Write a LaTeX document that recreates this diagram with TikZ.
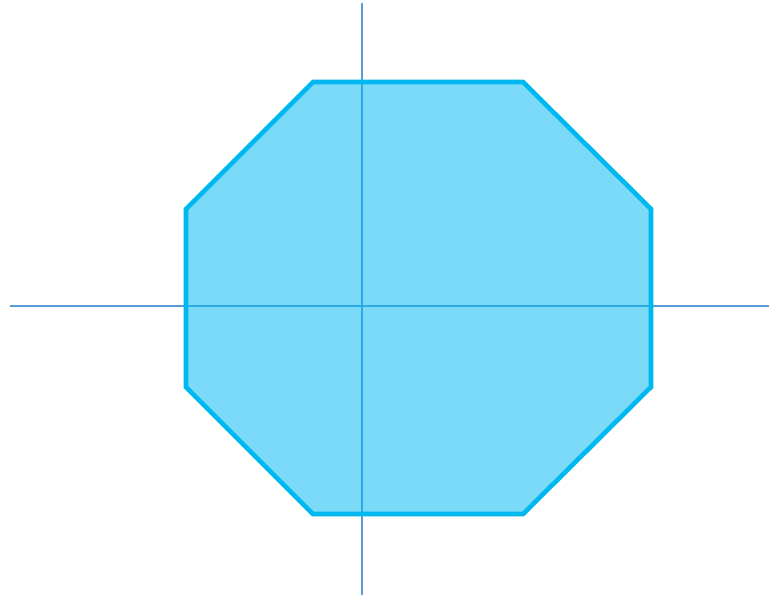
\documentclass[tikz,border=0pt]{standalone}
\usepackage{xcolor}
\usepackage{tikz}
\usetikzlibrary{calc}
\definecolor{octEdge}{HTML}{00B8F0}
\definecolor{axisBlue}{HTML}{5B9BD5}

\begin{document}
\begin{tikzpicture}[
  x=1pt,y=-1pt,
  axis/.style={draw=axisBlue,line width=1.4pt},
  octagon/.style={draw=octEdge,fill=octEdge,fill opacity=0.52,draw opacity=1,line width=4.6pt,line join=miter}
]
  \useasboundingbox (0,0) rectangle (769,595);
  % axes
  \coordinate (xl) at (10,306);
  \coordinate (xr) at (769,306);
  \coordinate (yt) at (362,3);
  \coordinate (yb) at (362,595);
  \draw[axis] (xl) -- (xr);
  \draw[axis] (yt) -- (yb);
  % octagon
  \draw[octagon] (313,82) -- (523,82) -- (651,209) -- (651,387)
    -- (523,514) -- (313,514) -- (186,387) -- (186,209) -- cycle;
\end{tikzpicture}
\end{document}
